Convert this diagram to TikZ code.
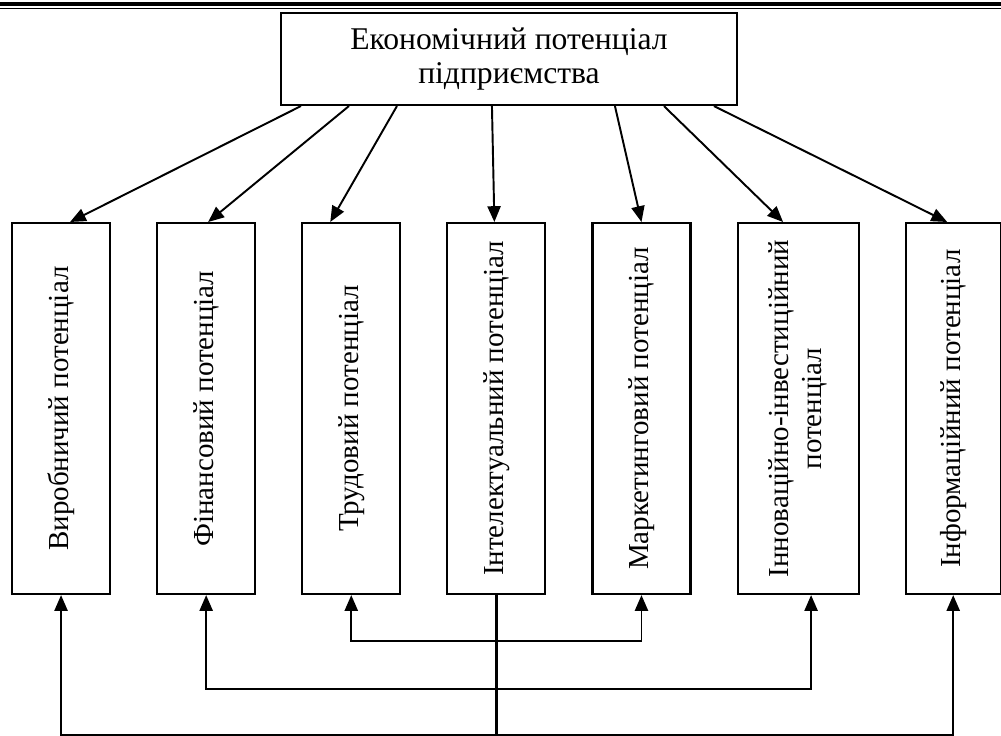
\documentclass[tikz,border=0pt]{standalone}
\usepackage{fontspec}
\setmainfont{Liberation Serif}
\usepackage{graphicx}
\usetikzlibrary{positioning,arrows.meta}

\begin{document}
\begin{tikzpicture}[
  every node/.style={font=\fontsize{16.5}{19}\selectfont},
  topbox/.style={rectangle, draw, line width=1.2pt, minimum width=9.12cm,
                 minimum height=1.84cm, align=center,
                 font=\fontsize{18}{19}\selectfont},
  potbox/.style={rectangle, draw, line width=1.2pt, minimum width=1.96cm,
                 minimum height=7.42cm, inner sep=0pt},
  arr/.style={-{Triangle[length=9pt,width=7.5pt]}, line width=1.1pt},
  arrs/.style={{Triangle[length=9pt,width=7.5pt]}-{Triangle[length=9pt,width=7.5pt]},
               line width=1.1pt}
]
\useasboundingbox (0,0) rectangle (20.02,-14.72);

% page rule
\draw[line width=2pt]   (0,-0.08) -- (20.02,-0.08);
\draw[line width=0.5pt] (0,-0.17) -- (20.02,-0.17);

\node[topbox] (eco) at (10.18,-1.18) {Економічний потенціал\\підприємства};

\node[potbox, anchor=north west] (vyr) at (0.22,-4.44)
     {\rotatebox{90}{Виробничий потенціал}};
\node[potbox, right=0.9cm of vyr]  (fin)  {\rotatebox{90}{Фінансовий потенціал}};
\node[potbox, right=0.9cm of fin]  (trud) {\rotatebox{90}{Трудовий потенціал}};
\node[potbox, right=0.9cm of trud] (int)  {\rotatebox{90}{Інтелектуальний потенціал}};
\node[potbox, right=0.9cm of int]  (mark) {\rotatebox{90}{Маркетинговий потенціал}};
\node[potbox, right=0.9cm of mark, minimum width=2.42cm] (inn)
     {\rotatebox{90}{\begin{tabular}{@{}c@{}}Інноваційно-інвестиційний\\потенціал\end{tabular}}};
\node[potbox, right=0.9cm of inn, minimum width=1.9cm] (inf)
     {\rotatebox{90}{Інформаційний потенціал}};

\draw[arr] ([xshift=0.42cm]eco.south west) -- ([xshift=0.18cm]vyr.north);
\draw[arr] ([xshift=1.38cm]eco.south west) -- ([xshift=0.04cm]fin.north);
\draw[arr] ([xshift=2.34cm]eco.south west) -- ([xshift=-0.42cm]trud.north);
\draw[arr] ([xshift=4.24cm]eco.south west) -- ([xshift=-0.04cm]int.north);
\draw[arr] ([xshift=6.70cm]eco.south west) -- (mark.north);
\draw[arr] ([xshift=7.68cm]eco.south west) -- ([xshift=-0.30cm]inn.north);
\draw[arr] ([xshift=8.68cm]eco.south west) -- ([xshift=-0.12cm]inf.north);

% feedback levels
\coordinate[below=0.92cm of int.south] (lvl1);
\coordinate[below=1.88cm of int.south] (lvl2);
\coordinate[below=2.80cm of int.south] (lvl3);

\draw[line width=1.4pt] (int.south) -- (lvl3);
\draw[arrs] (trud.south) -- (trud.south |- lvl1) -- (mark.south |- lvl1) -- (mark.south);
\draw[arrs] (fin.south) -- (fin.south |- lvl2) -- ([xshift=0.26cm]inn.south |- lvl2)
            -- ([xshift=0.26cm]inn.south);
\draw[arrs] (vyr.south) -- (vyr.south |- lvl3) -- (inf.south |- lvl3) -- (inf.south);

\end{tikzpicture}
\end{document}
